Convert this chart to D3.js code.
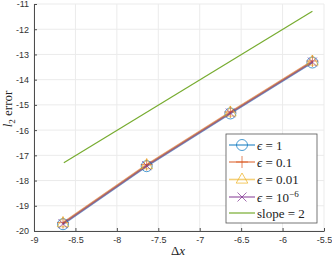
<!DOCTYPE html>
<html><head><meta charset="utf-8">
<script src="https://cdn.jsdelivr.net/npm/d3@7"></script>
<style>body{margin:0;background:#fff;}svg{display:block;}</style>
</head><body>
<script>
const dx = [-8.65, -7.64, -6.63, -5.64];
const err1 = [-19.73, -17.43, -15.34, -13.32];
const err01 = [-19.67, -17.37, -15.28, -13.26];
const err001 = [-19.69, -17.39, -15.30, -13.28];
const err1e6 = [-19.71, -17.41, -15.32, -13.30];
const slopeX = [-8.64, -5.64];
const slopeY = [-17.29, -11.29];
const xTicks = [-9, -8.5, -8, -7.5, -7, -6.5, -6, -5.5];
const yTicks = [-20, -19, -18, -17, -16, -15, -14, -13, -12, -11];

const W = 332, H = 258;
const svg = d3.select("body").append("svg").attr("width", W).attr("height", H);
const x = d3.scaleLinear().domain([-9, -5.5]).range([34, 324]);
const y = d3.scaleLinear().domain([-20, -11]).range([231, 4]);

// grid
const g = svg.append("g");
g.selectAll(".gx").data(xTicks).join("line")
  .attr("x1", d => x(d)).attr("x2", d => x(d)).attr("y1", y(-20)).attr("y2", y(-11))
  .attr("stroke", "#ebebeb").attr("stroke-width", 1);
g.selectAll(".gy").data(yTicks).join("line")
  .attr("x1", x(-9)).attr("x2", x(-5.5)).attr("y1", d => y(d)).attr("y2", d => y(d))
  .attr("stroke", "#ebebeb").attr("stroke-width", 1);

// axes
const xAxis = d3.axisBottom(x).tickValues(xTicks).tickSizeInner(-3).tickSizeOuter(0).tickPadding(6)
  .tickFormat(d => String(d));
const yAxis = d3.axisLeft(y).tickValues(yTicks).tickSizeInner(-3).tickSizeOuter(0).tickPadding(5)
  .tickFormat(d => String(d));
const ax = svg.append("g").attr("transform", `translate(0,${y(-20)})`).call(xAxis);
const ay = svg.append("g").attr("transform", `translate(${x(-9)},0)`).call(yAxis);
[ax, ay].forEach(a => {
  a.select(".domain").attr("stroke", "#4d4d4d");
  a.selectAll(".tick line").attr("stroke", "#4d4d4d");
  a.selectAll("text").attr("fill", "#333").style("font-family", "Liberation Sans, Arial, sans-serif").style("font-size", "9px");
});

const colors = ["#0072BD", "#D95319", "#EDB120", "#7E2F8E"];
const series = [err1, err01, err001, err1e6];
const line = d3.line().x(d => x(d[0])).y(d => y(d[1]));

function marker(sel, type, cx, cy, col) {
  const gm = sel.append("g").attr("transform", `translate(${cx},${cy})`)
    .attr("fill", "none").attr("stroke", col).attr("stroke-width", 1).attr("stroke-opacity", 0.7);
  if (type === 0) gm.append("circle").attr("r", 5.5);
  if (type === 1) gm.append("path").attr("d", "M-6,0H6M0,-6V6");
  if (type === 2) gm.append("path").attr("d", "M0,-6.5L5.8,3.6L-5.8,3.6Z");
  if (type === 3) gm.append("path").attr("d", "M-4.5,-4.5L4.5,4.5M-4.5,4.5L4.5,-4.5");
}

series.forEach((s, i) => {
  svg.append("path").datum(dx.map((d, k) => [d, s[k]])).attr("d", line)
    .attr("fill", "none").attr("stroke", colors[i]).attr("stroke-width", 1.8).attr("stroke-opacity", 0.55);
});
series.forEach((s, i) => {
  dx.forEach((d, k) => marker(svg, i, x(d), y(s[k]), colors[i]));
});

svg.append("path").datum(slopeX.map((d, k) => [d, slopeY[k]])).attr("d", line)
  .attr("fill", "none").attr("stroke", "#77AC30").attr("stroke-width", 1.2);

// labels
const serif = "Liberation Serif, DejaVu Serif, serif";
svg.append("text").attr("x", 178).attr("y", 255).attr("text-anchor", "middle")
  .style("font-family", serif).style("font-size", "13px").attr("fill", "#222")
  .html('Δ<tspan font-style="italic">x</tspan>');
const yl = svg.append("text").attr("transform", "translate(12,109) rotate(-90)").attr("text-anchor", "middle")
  .style("font-family", serif).style("font-size", "13px").attr("fill", "#222");
yl.append("tspan").attr("font-style", "italic").text("l");
yl.append("tspan").attr("dy", 3).style("font-size", "9px").text("2");
yl.append("tspan").attr("dy", -3).text(" error");

// legend
const lg = svg.append("g");
lg.append("rect").attr("x", 226).attr("y", 134).attr("width", 91).attr("height", 89)
  .attr("fill", "#fff").attr("stroke", "#555").attr("stroke-width", 0.8);
const labels = ["1", "0.1", "0.01", "10"];
const rowY = [145, 162, 179.5, 197, 213];
series.forEach((s, i) => {
  const cy = rowY[i];
  lg.append("line").attr("x1", 229).attr("x2", 255).attr("y1", cy).attr("y2", cy)
    .attr("stroke", colors[i]).attr("stroke-width", 1.6).attr("stroke-opacity", 0.6);
  marker(lg, i, 242, cy, colors[i]);
  const t = lg.append("text").attr("x", 257).attr("y", cy + 4.5)
    .style("font-family", serif).style("font-size", "13px").attr("fill", "#222");
  t.append("tspan").attr("font-style", "italic").text("ϵ");
  t.append("tspan").text(" = " + labels[i]);
  if (i === 3) t.append("tspan").attr("dy", -5).style("font-size", "9px").text("−6");
});
lg.append("line").attr("x1", 229).attr("x2", 255).attr("y1", rowY[4]).attr("y2", rowY[4])
  .attr("stroke", "#77AC30").attr("stroke-width", 1.2);
lg.append("text").attr("x", 257).attr("y", rowY[4] + 4.5)
  .style("font-family", serif).style("font-size", "13px").attr("fill", "#222").text("slope = 2");
</script>
</body></html>
